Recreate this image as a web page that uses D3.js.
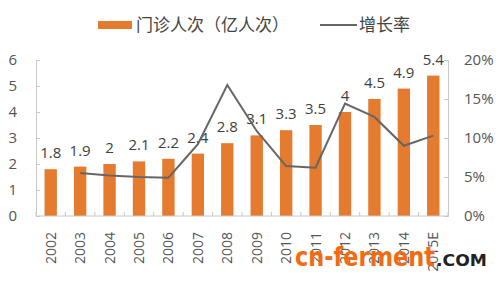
<!DOCTYPE html>
<html>
<head>
    <meta charset="utf-8">
    <script src="https://d3js.org/d3.v7.min.js"></script>
    <style>
        body { margin: 0; background: #fff; }
        text { font-family: "Open Sans", "Noto Sans CJK SC", sans-serif; }
    </style>
</head>
<body>
<script>
// data
const years = ['2002','2003','2004','2005','2006','2007','2008','2009','2010','2011','2012','2013','2014','2015E'];
const visits = [1.8, 1.9, 2, 2.1, 2.2, 2.4, 2.8, 3.1, 3.3, 3.5, 4, 4.5, 4.9, 5.4];
const growth = [null, 5.5, 5.2, 5.0, 4.9, 9.2, 16.8, 10.9, 6.4, 6.2, 14.4, 12.7, 9.0, 10.3];
const leftTicks = [0, 1, 2, 3, 4, 5, 6];
const rightTicks = [0, 5, 10, 15, 20];

const width = 500, height = 283;
const plotLeft = 36, plotRight = 448, plotTop = 60, plotBottom = 216;

const svg = d3.select('body').append('svg')
    .attr('width', width)
    .attr('height', height);

const x = d3.scaleBand().domain(years).range([plotLeft, plotRight]).paddingInner(0.58).paddingOuter(0.29);
const yL = d3.scaleLinear().domain([0, 6]).range([plotBottom, plotTop]);
const yR = d3.scaleLinear().domain([0, 20]).range([plotBottom, plotTop]);

// axes
const axisColor = '#c8c8c8';
const gl = svg.append('g').attr('transform', `translate(${plotLeft},0)`)
    .call(d3.axisLeft(yL).tickValues(leftTicks).tickSize(-4).tickPadding(19).tickFormat(d3.format('d')));
const gr = svg.append('g').attr('transform', `translate(${plotRight},0)`)
    .call(d3.axisRight(yR).tickValues(rightTicks).tickSize(-4).tickPadding(16).tickFormat(d => d + '%'));
[gl, gr].forEach(g => {
    g.select('.domain').attr('stroke', axisColor);
    g.selectAll('.tick line').attr('stroke', axisColor);
    g.selectAll('.tick text').attr('fill', '#555').style('font-size', '15px');
});

// bars
svg.selectAll('.bar').data(visits).enter().append('rect')
    .attr('class', 'bar')
    .attr('x', (d, i) => x(years[i]))
    .attr('y', d => yL(d))
    .attr('width', x.bandwidth())
    .attr('height', d => plotBottom - yL(d))
    .attr('fill', '#E47B2F');

// x axis
const step = x.step();
const gx = svg.append('g').attr('transform', `translate(0,${plotBottom})`);
gx.append('line').attr('x1', plotLeft).attr('x2', plotRight).attr('stroke', axisColor);
gx.selectAll('.xt').data(d3.range(years.length + 1)).enter().append('line')
    .attr('x1', i => plotLeft + i * step).attr('x2', i => plotLeft + i * step)
    .attr('y1', 0).attr('y2', -4).attr('stroke', axisColor);
gx.selectAll('.xl').data(years).enter().append('text')
    .attr('transform', d => `translate(${x(d) + x.bandwidth() / 2 + 5},16) rotate(-90)`)
    .attr('text-anchor', 'end')
    .attr('fill', '#555')
    .style('font-size', '14px')
    .text(d => d);

// bar labels
svg.selectAll('.lbl').data(visits).enter().append('text')
    .attr('x', (d, i) => x(years[i]) + x.bandwidth() / 2)
    .attr('y', d => yL(d) - 11)
    .attr('text-anchor', 'middle')
    .attr('fill', '#404040')
    .style('font-size', '15px')
    .text(d => d);

// growth line
const line = d3.line()
    .defined(d => d !== null)
    .x((d, i) => x(years[i]) + x.bandwidth() / 2)
    .y(d => yR(d));
svg.append('path').datum(growth)
    .attr('d', line)
    .attr('fill', 'none')
    .attr('stroke', '#666')
    .attr('stroke-width', 2);

// legend
svg.append('rect').attr('x', 98).attr('y', 21).attr('width', 34).attr('height', 8).attr('fill', '#E47B2F');
svg.append('text').attr('x', 136).attr('y', 31).attr('fill', '#444').style('font-size', '17px')
    .text('门诊人次（亿人次）');
svg.append('line').attr('x1', 320).attr('x2', 357).attr('y1', 25).attr('y2', 25)
    .attr('stroke', '#666').attr('stroke-width', 2);
svg.append('text').attr('x', 359).attr('y', 31).attr('fill', '#444').style('font-size', '17px')
    .text('增长率');

// watermark
svg.append('text').attr('x', 295).attr('y', 266)
    .attr('textLength', 140).attr('lengthAdjust', 'spacingAndGlyphs')
    .style('font-family', '"DejaVu Sans", sans-serif').style('font-weight', 'bold')
    .style('font-size', '26px').attr('fill', '#F26B10')
    .text('cn-ferment');
svg.append('text').attr('x', 436).attr('y', 266)
    .attr('textLength', 51).attr('lengthAdjust', 'spacingAndGlyphs')
    .style('font-family', '"DejaVu Sans", sans-serif').style('font-weight', 'bold')
    .style('font-size', '15px').attr('fill', '#222')
    .text('.COM');
</script>
</body>
</html>
